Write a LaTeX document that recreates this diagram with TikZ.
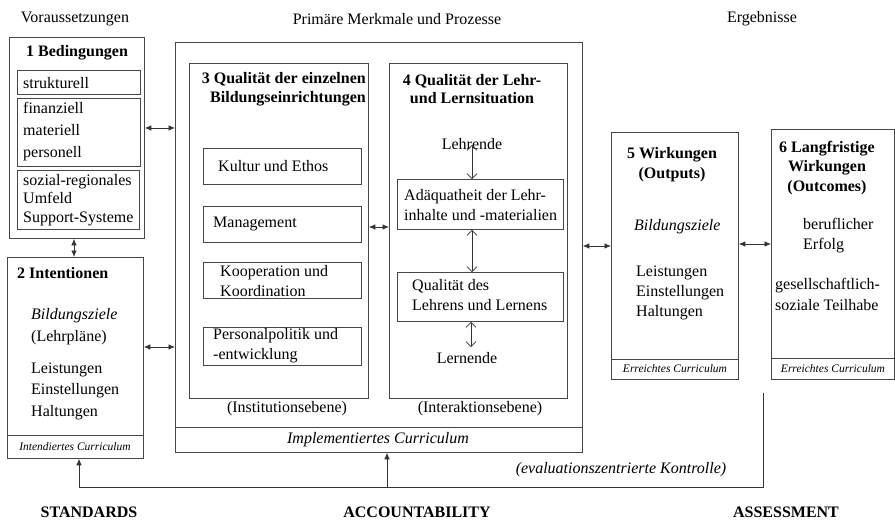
\documentclass[tikz,border=0pt]{standalone}
\usepackage{fontspec}
\setmainfont{Liberation Serif}
\usetikzlibrary{arrows.meta}
\begin{document}
\begin{tikzpicture}[x=1pt,y=-1pt,
  boxst/.style={draw=black!72,line width=0.8pt,rectangle,inner sep=0pt,anchor=north west},
  txt/.style={inner sep=0pt,font=\fontsize{16}{#1}\selectfont},
  txt/.default=20,
  ttl/.style={inner sep=0pt,font=\fontsize{16}{#1}\selectfont\bfseries},
  ttl/.default=19,
  smallit/.style={inner sep=0pt,font=\fontsize{11.5}{13}\selectfont\itshape},
  dblarr/.style={draw=black!80,line width=0.8pt,{Latex[length=6.5pt,width=5.5pt]}-{Latex[length=6.5pt,width=5.5pt]}},
  innarr/.style={draw=black!80,line width=0.7pt,{Straight Barb[length=5pt,width=10pt]}-{Straight Barb[length=5pt,width=10pt]}},
  fbarr/.style={draw=black!80,line width=0.8pt,-{Latex[length=6.5pt,width=5.5pt]}},
  divline/.style={draw=black!72,line width=0.8pt}
]
\useasboundingbox (0,0) rectangle (895,520);

% column headings
\node[txt] (hvor) at (75,19) {Voraussetzungen};
\node[txt] (hpri) at (397,19) {Primäre Merkmale und Prozesse};
\node[txt] (herg) at (762,19) {Ergebnisse};

% Box 1
\node[boxst,minimum width=135pt,minimum height=201pt] (b1) at (9,37) {};
\node[ttl] (t1) at (77,53) {1 Bedingungen};
\node[boxst,minimum width=123pt,minimum height=24pt] (s1) at (17,70) {};
\node[boxst,minimum width=123pt,minimum height=68pt] (s2) at (17,98) {};
\node[boxst,minimum width=122pt,minimum height=59pt] (s3) at (17,170) {};
\node[txt,anchor=west] (s1t) at (23,83) {strukturell};
\node[txt=22,anchor=west,align=left] (s2t) at (23,132) {finanziell\\materiell\\personell};
\node[txt=18.5,anchor=west,align=left] (s3t) at (23,200) {sozial-regionales\\Umfeld\\Support-Systeme};

% Box 2
\node[boxst,minimum width=136pt,minimum height=201pt] (b2) at (7,257) {};
\coordinate (d2l) at (7,435);
\draw[divline] (d2l) -- (d2l -| b2.east);
\node[ttl,anchor=west] (t2) at (17,273) {2 Intentionen};
\node[txt=22,anchor=west,align=left] (b2a) at (31,327) {\itshape Bildungsziele\\(Lehrpläne)};
\node[txt=21.5,anchor=west,align=left] (b2b) at (31,391) {Leistungen\\Einstellungen\\Haltungen};
\node[smallit] (b2c) at (75,447) {Intendiertes Curriculum};

% Box 3 outer
\node[boxst,minimum width=407pt,minimum height=410pt] (b3o) at (175,42) {};
\coordinate (d3l) at (175,427);
\draw[divline] (d3l) -- (d3l -| b3o.east);
\node[txt] (b3oc) at (378,440) {\itshape Implementiertes Curriculum};

% Box 3 inner
\node[boxst,minimum width=179pt,minimum height=335pt] (b3) at (189,63) {};
\node[ttl,anchor=east,align=right] (t3) at (366,89) {3 Qualität der einzelnen\\Bildungseinrichtungen};
\node[boxst,minimum width=158pt,minimum height=36pt] (k1) at (203,148) {};
\node[boxst,minimum width=158pt,minimum height=36pt] (k2) at (203,206) {};
\node[boxst,minimum width=158pt,minimum height=36pt] (k3) at (203,262) {};
\node[boxst,minimum width=158pt,minimum height=38pt] (k4) at (203,327) {};
\node[txt,anchor=west] (k1t) at (218,166) {Kultur und Ethos};
\node[txt,anchor=west] (k2t) at (213,224) {Management};
\node[txt,anchor=west,align=left] (k3t) at (220,281) {Kooperation und\\Koordination};
\node[txt,anchor=west,align=left] (k4t) at (213,346) {Personalpolitik und\\-entwicklung};
\node[txt] (inst) at (287,409) {(Institutionsebene)};

% Box 4
\node[boxst,minimum width=178pt,minimum height=335pt] (b4) at (389,63) {};
\node[ttl=18,align=center] (t4) at (472,89) {4 Qualität der Lehr-\\und Lernsituation};
\node[txt] (lehr) at (472,144) {Lehrende};
\node[boxst,minimum width=166pt,minimum height=50pt] (a1) at (397,179) {};
\node[txt,anchor=west,align=left] (a1t) at (404,205) {Adäquatheit der Lehr-\\inhalte und -materialien};
\node[boxst,minimum width=166pt,minimum height=49pt] (a2) at (397,272) {};
\node[txt,anchor=west,align=left] (a2t) at (412,295) {Qualität des\\Lehrens und Lernens};
\node[txt] (lern) at (467,358) {Lernende};
\node[txt] (inter) at (480,409) {(Interaktionsebene)};

% Box 5
\node[boxst,minimum width=127pt,minimum height=247pt] (b5) at (611,132) {};
\coordinate (d5l) at (611,359);
\draw[divline] (d5l) -- (d5l -| b5.east);
\node[ttl=20,align=center] (t5) at (672,165) {5 Wirkungen\\(Outputs)};
\node[txt,anchor=west] (b5a) at (634,227) {\itshape Bildungsziele};
\node[txt,anchor=west,align=left] (b5b) at (636,293) {Leistungen\\Einstellungen\\Haltungen};
\node[smallit] (b5c) at (675,369) {Erreichtes Curriculum};

% Box 6
\node[boxst,minimum width=123pt,minimum height=250pt] (b6) at (771,129) {};
\coordinate (d6l) at (771,358);
\draw[divline] (d6l) -- (d6l -| b6.east);
\node[ttl=19.5,align=center] (t6) at (827,168) {6 Langfristige\\Wirkungen\\(Outcomes)};
\node[txt,anchor=west,align=left] (b6a) at (803,236) {beruflicher\\Erfolg};
\node[txt=21,anchor=west,align=left] (b6b) at (775,294) {gesellschaftlich-\\soziale Teilhabe};
\node[smallit] (b6c) at (833,369) {Erreichtes Curriculum};

% connectors
\draw[dblarr] (b1.east |- 0,128) -- (b3o.west |- 0,128);
\draw[dblarr] (b2.east |- 0,347) -- (b3o.west |- 0,347);
\draw[dblarr] (b1.south -| 74,0) -- (b2.north -| 74,0);
\draw[dblarr] (b3.east |- 0,227) -- (b4.west |- 0,227);
\draw[dblarr] (b3o.east |- 0,246) -- (b5.west |- 0,246);
\draw[dblarr] (b5.east |- 0,244) -- (b6.west |- 0,244);
\draw[innarr] (lehr.south -| 472,0) ++(0,-5) -- (a1.north -| 472,0);
\draw[innarr] (a1.south -| 472,0) -- (a2.north -| 472,0);
\draw[innarr] (a2.south -| 471,0) -- (471,347);

% feedback loop
\coordinate (fbtop) at (763,393);
\coordinate (fbcorner) at (79,487);
\coordinate (fbmid) at (387,487);
\draw[fbarr] (fbtop) |- (fbcorner) -- (fbcorner |- b2.south);
\draw[fbarr] (fbmid) -- (fbmid |- b3o.south);
\node[txt] (evk) at (621,470) {\itshape (evaluationszentrierte Kontrolle)};

% bottom labels
\node[ttl] (std) at (89,512) {STANDARDS};
\node[ttl] (acc) at (417,512) {ACCOUNTABILITY};
\node[ttl] (ass) at (786,512) {ASSESSMENT};
\end{tikzpicture}
\end{document}
